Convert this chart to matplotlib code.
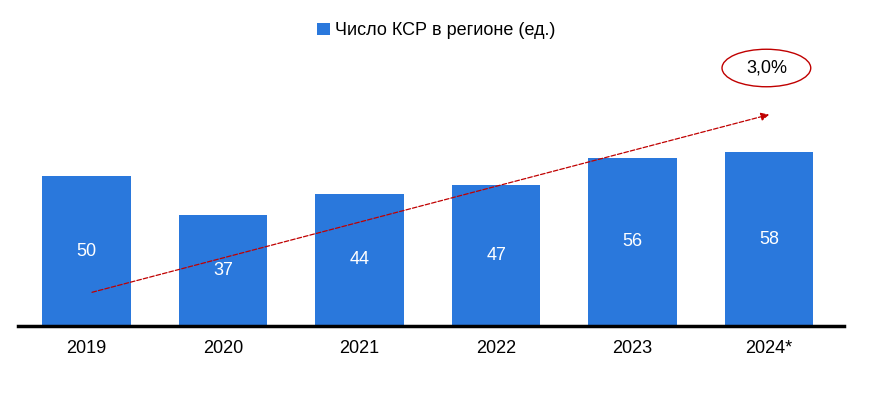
import matplotlib
matplotlib.use('Agg')
import matplotlib.pyplot as plt
from matplotlib.patches import Ellipse

plt.rcParams['font.family'] = ['Liberation Sans Narrow', 'Liberation Sans', 'DejaVu Sans']

years = ['2019', '2020', '2021', '2022', '2023', '2024*']
values = [50, 37, 44, 47, 56, 58]
legend_label = 'Число КСР в регионе (ед.)'
growth_label = '3,0%'

blue = '#2A78DC'

fig = plt.figure(figsize=(8.73, 4.0), dpi=100)
ax = fig.add_axes([0.021, 0.185, 0.946, 0.75])

x = range(len(years))
bars = ax.bar(x, values, width=0.65, color=blue, label=legend_label)
for i, v in enumerate(values):
    ax.text(i, v / 2, str(v), ha='center', va='center', color='white', fontsize=13)

# trend arrow
ax.annotate('', xy=(5.02, 70.7), xytext=(0.02, 11),
            arrowprops=dict(arrowstyle='-|>', color='#C00000', linestyle='--', lw=0.9,
                            mutation_scale=12))
ax.add_patch(Ellipse((4.98, 86), 0.65, 12.5, fill=False, edgecolor='#C00000', lw=1, clip_on=False))
ax.text(4.98, 86, growth_label, ha='center', va='center', fontsize=13)

ax.set_xlim(-0.5, 5.55)
ax.set_ylim(0, 100)
ax.set_xticks(list(x))
ax.set_xticklabels(years, fontsize=13)
ax.tick_params(axis='x', length=0, pad=10)
ax.set_yticks([])
for s in ['top', 'right', 'left']:
    ax.spines[s].set_visible(False)
ax.spines['bottom'].set_linewidth(2.5)
ax.spines['bottom'].set_color('black')

fig.legend(loc='upper center', bbox_to_anchor=(0.5, 0.985), frameon=False, fontsize=13,
           handlelength=0.7, handleheight=0.7, handletextpad=0.3)

fig.savefig('out.png', dpi=100)
